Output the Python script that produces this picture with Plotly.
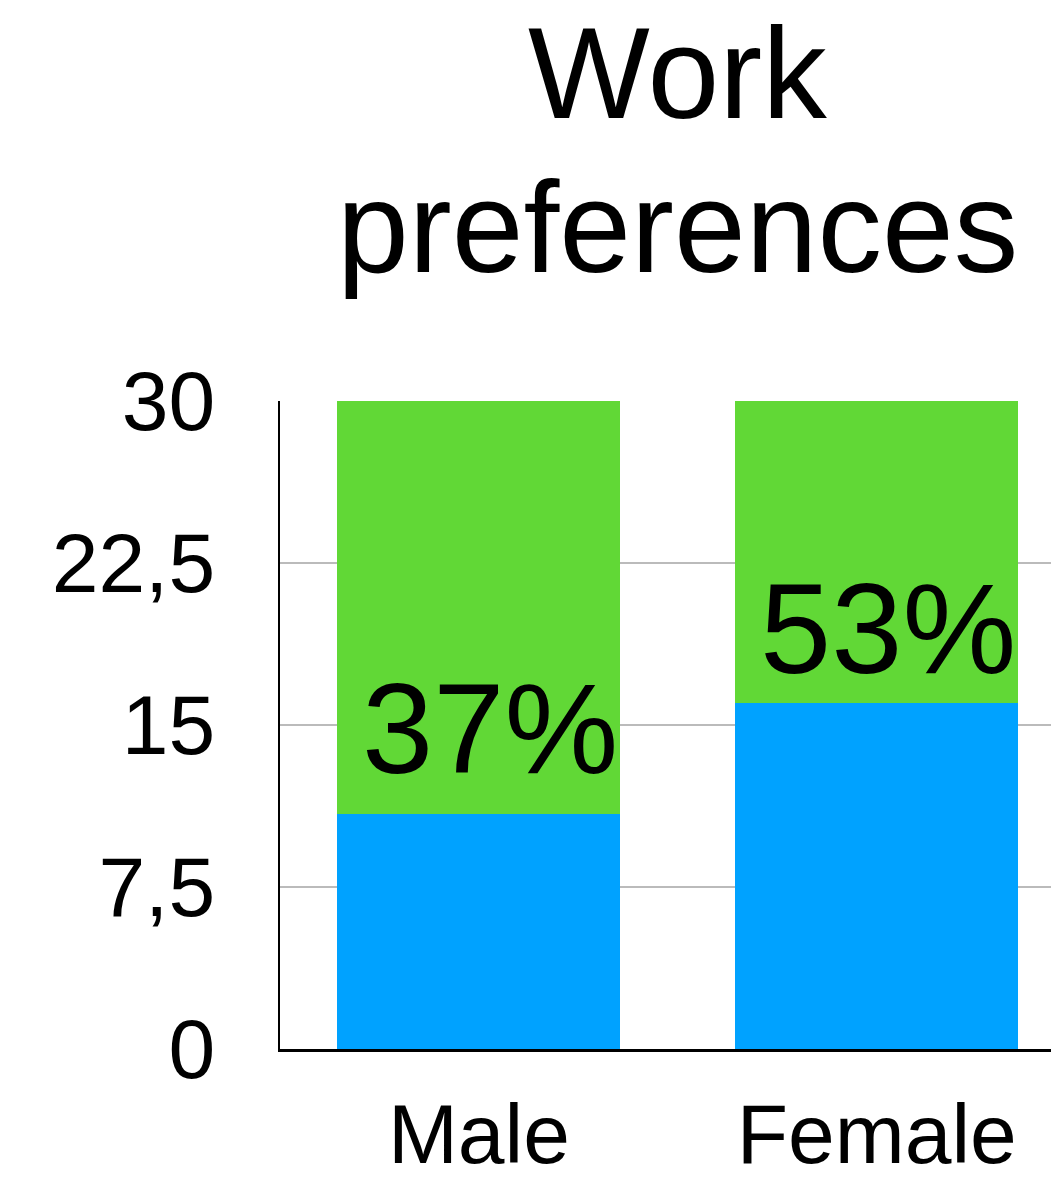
import plotly.graph_objects as go

categories = ["Male", "Female"]
blue_values = [10.9, 16.0]
green_values = [19.1, 14.0]
bar_labels = ["37%", "53%"]
label_yshift = [12, 1]
y_tickvals = [0, 7.5, 15, 22.5, 30]
y_ticktext = ["0", "7,5", "15", "22,5", "30"]
title_lines = ["Work", "preferences"]

FONT = "Liberation Sans, Arial, Helvetica, sans-serif"
BLUE = "#00A2FF"
GREEN = "#61D836"

fig = go.Figure()
fig.add_trace(go.Bar(x=categories, y=blue_values, marker=dict(color=BLUE, line=dict(width=0)),
                     width=0.711, showlegend=False, hoverinfo="skip"))
fig.add_trace(go.Bar(x=categories, y=green_values, marker=dict(color=GREEN, line=dict(width=0)),
                     width=0.711, showlegend=False, hoverinfo="skip"))

annotations = []
for cat, b, lab, ys in zip(categories, blue_values, bar_labels, label_yshift):
    annotations.append(dict(x=cat, y=b, xref="x", yref="y", text=lab, showarrow=False,
                            xanchor="center", yanchor="bottom", xshift=11, yshift=ys,
                            font=dict(family=FONT, size=128, color="black")))

title_y = [1.392, 1.154]
for t, ty in zip(title_lines, title_y):
    annotations.append(dict(x=0.516, y=ty, xref="paper", yref="paper", text=t, showarrow=False,
                            xanchor="center", yanchor="bottom",
                            font=dict(family=FONT, size=129, color="black")))

fig.update_layout(
    barmode="stack",
    width=1051, height=1182,
    margin=dict(l=280, r=0, t=401, b=133, pad=0, autoexpand=False),
    paper_bgcolor="white", plot_bgcolor="white",
    font=dict(family=FONT, color="black"),
    annotations=annotations,
    bargap=0,
)
fig.update_xaxes(range=[-0.5, 1.438], showline=True, linecolor="black", linewidth=3,
                 showgrid=False, ticks="", tickfont=dict(size=84, family=FONT, color="black"),
                 ticklabelstandoff=10, fixedrange=True, automargin=False)
fig.update_yaxes(range=[0, 30], tickvals=y_tickvals, ticktext=y_ticktext,
                 showline=True, linecolor="black", linewidth=2,
                 showgrid=True, gridcolor="#BBBBBB", gridwidth=2, zeroline=False,
                 ticks="", tickfont=dict(size=84, family=FONT, color="black"),
                 ticklabelstandoff=46, fixedrange=True, automargin=False)

fig.write_html("out.html", config={"displayModeBar": False})
